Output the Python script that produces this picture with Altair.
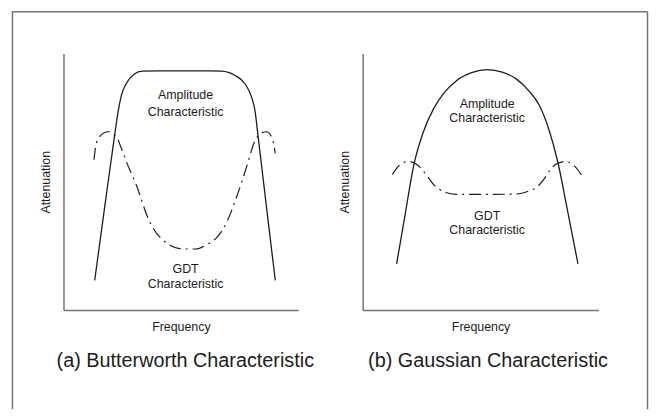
import altair as alt
import pandas as pd

# ---------------- data (axes run 0..100 in both panels) -------------
# (a) Butterworth
bw_amp_x = [13.3, 17.5, 21.7, 23.4, 24.7, 26.7, 30.2, 33.5, 40.7, 51.3, 61.8, 67.3, 73.1, 77.3, 80.1, 81.5, 82.9, 86.5, 90.2]
bw_amp_y = [11.6, 39.8, 67.6, 78.0, 83.8, 88.2, 92.0, 93.1, 93.2, 93.2, 93.2, 93.1, 91.4, 88.2, 83.0, 78.0, 67.6, 39.8, 11.6]
bw_gdt_x = [13.0, 13.7, 15.4, 18.9, 22.5, 24.7, 27.6, 30.9, 36.5, 43.5, 50.6, 56.2, 61.0, 66.0, 69.8, 73.1, 78.7, 81.2, 83.3, 86.4, 88.8, 90.2]
bw_gdt_y = [58.6, 63.7, 67.6, 69.5, 67.6, 62.9, 56.0, 49.0, 34.8, 26.4, 23.8, 23.8, 25.5, 29.0, 34.8, 42.5, 57.9, 65.3, 68.3, 69.5, 67.2, 61.1]

# (b) Gaussian
ga_amp_x = [14.4, 18.1, 21.7, 25.6, 30.1, 34.7, 39.9, 46.2, 52.9, 59.2, 65.1, 70.2, 74.9, 79.0, 82.7, 87.0, 91.3]
ga_amp_y = [18.0, 37.8, 56.6, 69.1, 78.5, 84.8, 89.5, 92.5, 93.7, 92.7, 90.1, 85.7, 79.8, 70.3, 57.9, 38.2, 18.0]
ga_gdt_x = [12.6, 14.7, 16.8, 19.6, 23.1, 26.5, 30.1, 35.7, 39.9, 52.5, 65.1, 70.2, 73.5, 76.9, 79.1, 81.9, 86.1, 89.5, 93.2]
ga_gdt_y = [52.8, 55.6, 57.3, 57.9, 56.6, 53.3, 48.9, 45.7, 45.1, 45.1, 45.2, 46.3, 47.6, 51.0, 54.1, 56.8, 57.9, 56.4, 52.1]

# annotation labels (text, x, y)
bw_label_text = ["Amplitude", "Characteristic", "GDT", "Characteristic"]
bw_label_x = [52.0, 52.0, 52.0, 52.0]
bw_label_y = [83.7, 77.2, 16.1, 10.3]
ga_label_text = ["Amplitude", "Characteristic", "GDT", "Characteristic"]
ga_label_x = [52.8, 52.8, 52.8, 52.8]
ga_label_y = [80.4, 74.9, 36.7, 31.2]

titles = ["(a) Butterworth Characteristic", "(b) Gaussian Characteristic"]
x_title = "Frequency"
y_title = "Attenuation"

FONT = "Liberation Sans"
INK = "#1c1c1c"
GREY = "#747474"
W_L, W_R, H = 237, 238, 259


def xenc():
    return alt.X("x:Q", scale=alt.Scale(domain=[0, 100], nice=False, zero=False),
                 axis=alt.Axis(title=x_title, ticks=False, labels=False, grid=False,
                               domainColor=GREY, domainWidth=1.5, titleFont=FONT,
                               titleFontSize=12.5, titleFontWeight="normal",
                               titleColor=INK, titlePadding=11))


def yenc():
    return alt.Y("y:Q", scale=alt.Scale(domain=[0, 100], nice=False, zero=False),
                 axis=alt.Axis(title=y_title, ticks=False, labels=False, grid=False,
                               domainColor=GREY, domainWidth=1.5, titleFont=FONT,
                               titleFontSize=12.5, titleFontWeight="normal",
                               titleColor=INK, titlePadding=11))


def panel(ax, ay, gx, gy, lt, lx, ly, title, title_dx, frame=False):
    amp = alt.Chart(pd.DataFrame({"x": ax, "y": ay})).mark_line(
        color=INK, strokeWidth=1.3, interpolate="monotone").encode(x=xenc(), y=yenc())
    gdt = alt.Chart(pd.DataFrame({"x": gx, "y": gy})).mark_line(
        color=INK, strokeWidth=1.2, interpolate="monotone",
        strokeDash=[12, 5, 2, 5]).encode(x=xenc(), y=yenc())
    lab = alt.Chart(pd.DataFrame({"t": lt, "x": lx, "y": ly})).mark_text(
        font=FONT, fontSize=12.5, color=INK, baseline="middle", align="center").encode(
        x=xenc(), y=yenc(), text="t:N")
    one = pd.DataFrame({"k": [0]})
    ttl = alt.Chart(one).mark_text(text=title, font=FONT, fontSize=20, color=INK,
                                   baseline="middle", align="center").encode(
        x=alt.value(title_dx), y=alt.value(310))
    layers = [amp, gdt, lab, ttl]
    if frame:
        fl = alt.Chart(one).mark_rule(color=GREY, strokeWidth=1.5).encode(
            x=alt.value(-51.5), y=alt.value(-42), y2=alt.value(359))
        ft = alt.Chart(one).mark_rule(color=GREY, strokeWidth=1.5).encode(
            x=alt.value(-51.5), x2=alt.value(589.5), y=alt.value(-42))
        fr = alt.Chart(one).mark_rule(color=GREY, strokeWidth=1.5).encode(
            x=alt.value(589.5), y=alt.value(-42), y2=alt.value(359))
        layers = [fl, ft, fr] + layers
    return alt.layer(*layers)


left = panel(bw_amp_x, bw_amp_y, bw_gdt_x, bw_gdt_y, bw_label_text, bw_label_x, bw_label_y,
             titles[0], 123, frame=True).properties(width=W_L, height=H)
right = panel(ga_amp_x, ga_amp_y, ga_gdt_x, ga_gdt_y, ga_label_text, ga_label_x, ga_label_y,
              titles[1], 126.5).properties(width=W_R, height=H)

chart = alt.hconcat(left, right, spacing=65, bounds="flush").properties(
    padding={"left": 3, "top": 0, "right": 0, "bottom": 0},
    background="white",
).configure_view(stroke="transparent")

chart.save("out.html", embed_options={"renderer": "svg", "actions": False})
